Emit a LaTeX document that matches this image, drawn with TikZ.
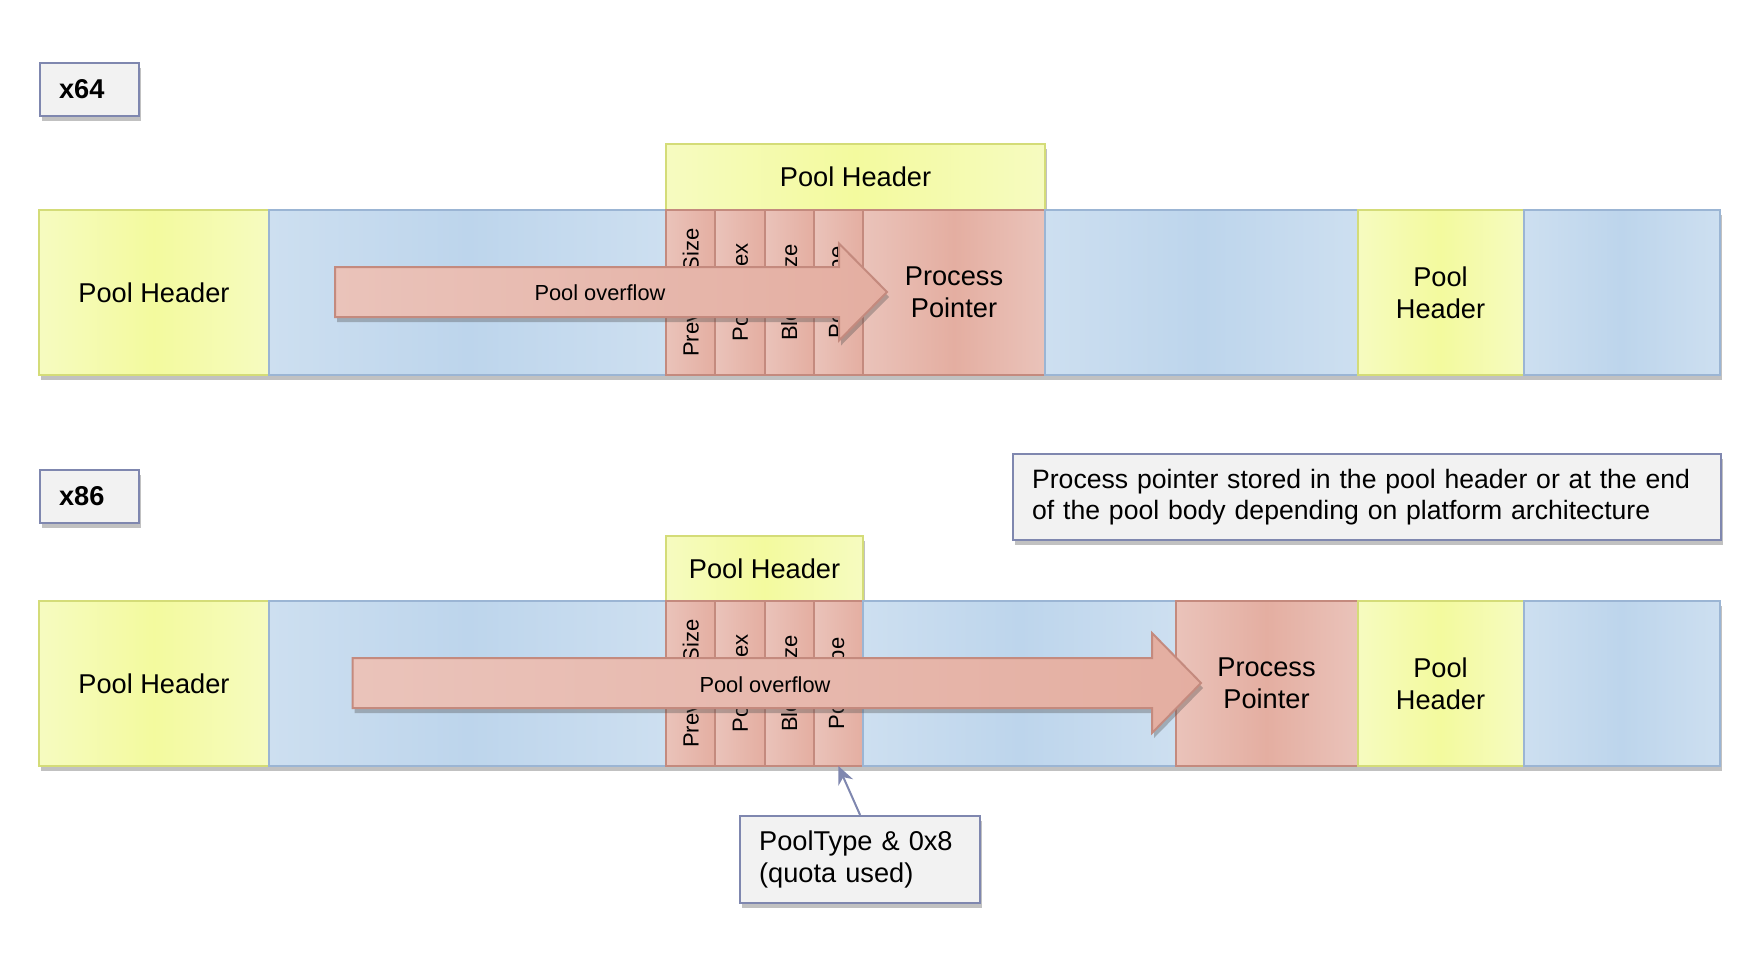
\documentclass[tikz,border=0pt]{standalone}
\usepackage{fontspec}
\setmainfont{Liberation Sans}
\usepackage{graphicx}
\usetikzlibrary{positioning,shadows,arrows.meta}

\definecolor{phFill}{HTML}{F3FA9E}
\definecolor{phLight}{HTML}{F6FBC0}
\definecolor{phLine}{HTML}{D4DC78}
\definecolor{bodyFill}{HTML}{BDD5EC}
\definecolor{bodyLight}{HTML}{CDDFF0}
\definecolor{bodyLine}{HTML}{9BB5D4}
\definecolor{hdrFill}{HTML}{E4AEA1}
\definecolor{hdrLight}{HTML}{EAC3BA}
\definecolor{hdrLine}{HTML}{C48A7E}
\definecolor{noteFill}{HTML}{F2F2F2}
\definecolor{noteLine}{HTML}{7F87AF}

\newcommand{\boxfont}{\fontsize{13.6pt}{16pt}\selectfont}
\newcommand{\smallboxfont}{\fontsize{10.9pt}{13pt}\selectfont}

\tikzset{
    shadowed/.style={drop shadow={shadow xshift=1pt,shadow yshift=-2.5pt,opacity=.35,fill=black!70}},
    blockbox/.style={draw,shadowed,outer sep=0pt,inner sep=0pt,line width=1pt,minimum height=82.5pt,align=center,font=\boxfont},
    phbox/.style={blockbox,draw=phLine,left color=phLight,right color=phLight,middle color=phFill},
    bodybox/.style={blockbox,draw=bodyLine,left color=bodyLight,right color=bodyLight,middle color=bodyFill},
    ptrbox/.style={blockbox,draw=hdrLine,left color=hdrLight,right color=hdrLight,middle color=hdrFill},
    fieldbox/.style={blockbox,draw=hdrLine,left color=hdrLight,right color=hdrFill,minimum width=24.625pt,font=\fontsize{11pt}{13pt}\selectfont},
    notebox/.style={draw=noteLine,fill=noteFill,shadowed,line width=1.1pt,inner xsep=9.5pt,inner ysep=5pt,align=left,font=\boxfont},
    flowarrow/.style={draw=hdrLine,line width=1pt,left color=hdrLight,right color=hdrFill,shadowed},
}

\begin{document}
\begin{tikzpicture}[x=1pt,y=-1pt]
    \useasboundingbox (0,0) rectangle (879.5,484);

    % x64
    \node[notebox,anchor=north west,text width=30.5pt,minimum height=26.5pt,font=\boxfont\bfseries] (x64) at (19.5,31) {x64};

    \node[phbox,minimum width=115pt,anchor=north west] (aHead) at (19.5,105) {Pool Header};
    \node[bodybox,minimum width=198.5pt,right=0pt of aHead] (aBodyL) {};
    \node[phbox,minimum width=189.5pt,minimum height=33pt,anchor=south west] (aTop) at (aBodyL.north east) {\raisebox{-1pt}{Pool Header}};
    \node[fieldbox,right=0pt of aBodyL] (aPrev) {\rotatebox{90}{PreviousSize}};
    \node[fieldbox,right=0pt of aPrev] (aIndex) {\rotatebox{90}{PoolIndex}};
    \node[fieldbox,right=0pt of aIndex] (aBlock) {\rotatebox{90}{BlockSize}};
    \node[fieldbox,right=0pt of aBlock] (aType) {\rotatebox{90}{PoolType}};
    \node[ptrbox,minimum width=91pt,right=0pt of aType] (aPtr) {Process\\Pointer};
    \node[bodybox,minimum width=156.25pt,right=0pt of aPtr] (aBodyM) {};
    \node[phbox,minimum width=83pt,right=0pt of aBodyM] (aNext) {Pool\\Header};
    \node[bodybox,minimum width=98.2pt,right=0pt of aNext] (aBodyR) {};

    \draw[flowarrow] (167.5,133.5) -- (419.5,133.5) -- (419.5,121.75) -- (443.5,146) -- (419.5,170.25) -- (419.5,158.5) -- (167.5,158.5) -- cycle;
    \node[font=\smallboxfont] (aFlow) at (300,146.5) {Pool overflow};

    % x86
    \node[notebox,anchor=north west,text width=30.5pt,minimum height=26.5pt,font=\boxfont\bfseries] (x86) at (19.5,234.5) {x86};

    \node[notebox,anchor=north west,text width=335pt,minimum height=43pt,font=\fontsize{13.3pt}{15.7pt}\selectfont] (note) at (506,226.5) {\mbox{Process pointer stored in the pool header or at the end}\\of the pool body depending on platform architecture};

    \node[phbox,minimum width=115pt,anchor=north west] (bHead) at (19.5,300.5) {Pool Header};
    \node[bodybox,minimum width=198.5pt,right=0pt of bHead] (bBodyL) {};
    \node[phbox,minimum width=98.5pt,minimum height=32.5pt,anchor=south west] (bTop) at (bBodyL.north east) {\raisebox{-1pt}{Pool Header}};
    \node[fieldbox,right=0pt of bBodyL] (bPrev) {\rotatebox{90}{PreviousSize}};
    \node[fieldbox,right=0pt of bPrev] (bIndex) {\rotatebox{90}{PoolIndex}};
    \node[fieldbox,right=0pt of bIndex] (bBlock) {\rotatebox{90}{BlockSize}};
    \node[fieldbox,right=0pt of bBlock] (bType) {\rotatebox{90}{PoolType}};
    \node[bodybox,minimum width=156.25pt,right=0pt of bType] (bBodyM) {};
    \node[ptrbox,minimum width=91pt,right=0pt of bBodyM] (bPtr) {Process\\Pointer};
    \node[phbox,minimum width=83pt,right=0pt of bPtr] (bNext) {Pool\\Header};
    \node[bodybox,minimum width=98.2pt,right=0pt of bNext] (bBodyR) {};

    \draw[flowarrow] (176.25,329) -- (576,329) -- (576,316.5) -- (600.5,341.5) -- (576,366.5) -- (576,354) -- (176.25,354) -- cycle;
    \node[font=\smallboxfont] (bFlow) at (382.5,342.5) {Pool overflow};

    \node[notebox,anchor=north west,text width=101pt,minimum height=43.5pt] (quota) at (369.5,407.5) {PoolType \& 0x8\\(quota used)};
    \draw[-{Stealth[length=9pt,width=8pt]},draw=noteLine,fill=noteLine,line width=1pt] (quota.north) -- (bType.south);
\end{tikzpicture}
\end{document}
